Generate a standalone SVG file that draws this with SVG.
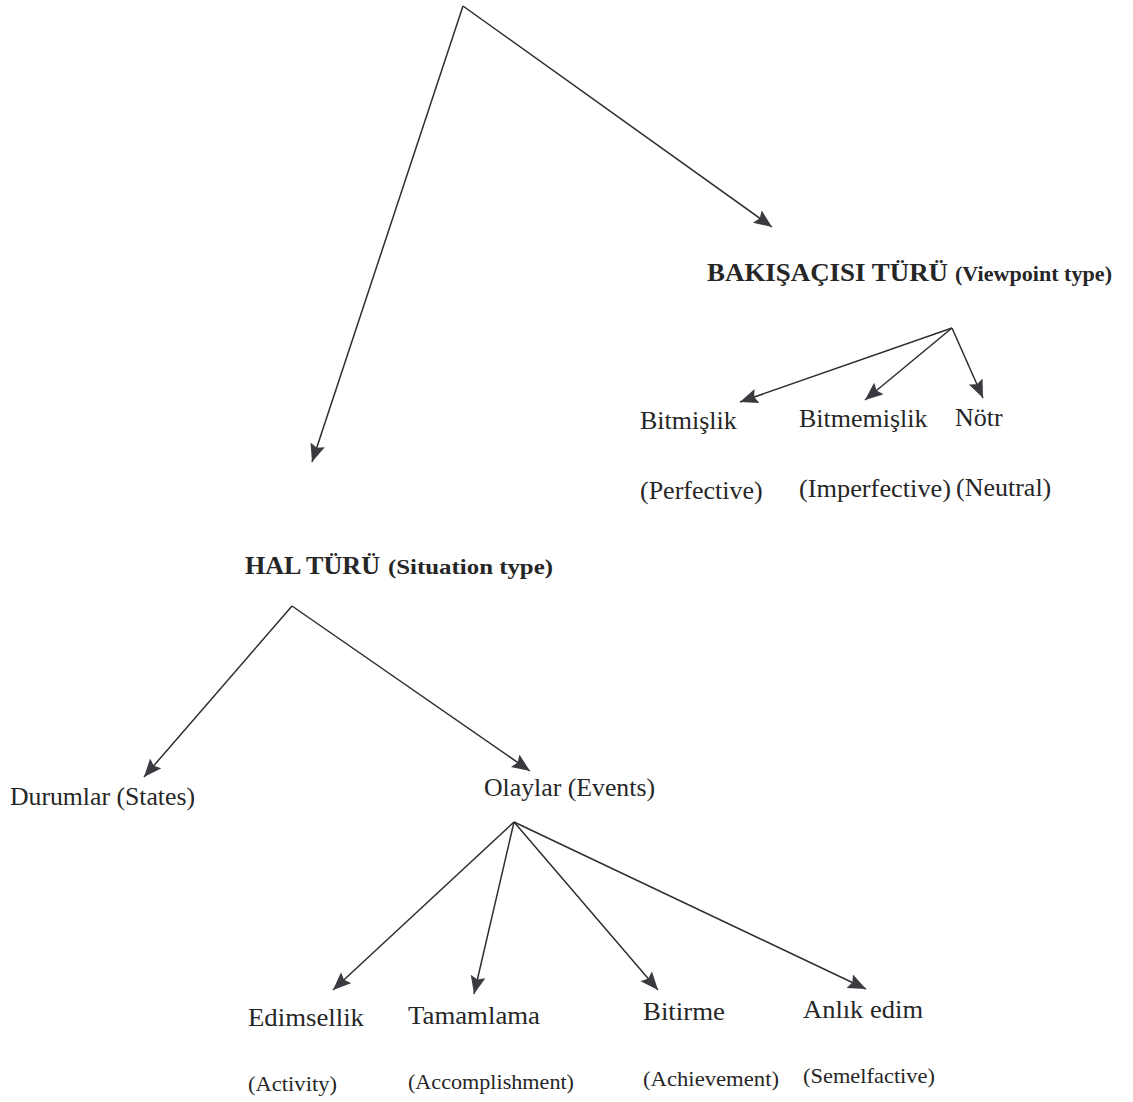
<svg xmlns="http://www.w3.org/2000/svg" width="1133" height="1102" viewBox="0 0 1133 1102">
<style>
.ln{stroke:#2e2e2e;stroke-width:1.5;fill:none;marker-end:url(#ah)}
text{font-family:"Liberation Serif","Times New Roman",serif;fill:#262626}
.t{font-size:26px}
.s{font-size:22px}
.hb{font-size:26px;font-weight:bold}
.hs{font-size:22px;font-weight:bold}
</style>
<defs>
<marker id="ah" markerUnits="userSpaceOnUse" markerWidth="20" markerHeight="16" refX="18" refY="7.5" orient="auto">
<path d="M0,0 L18,7.5 L0,15 L3,7.5 z" fill="#3a3a40"/>
</marker>
</defs>
<rect width="1133" height="1102" fill="#ffffff"/>
<g id="connectors">
<line class="ln" x1="463" y1="6" x2="772" y2="227"/>
<line class="ln" x1="463" y1="6" x2="312" y2="462"/>
<line class="ln" x1="952" y1="328" x2="740" y2="402"/>
<line class="ln" x1="952" y1="328" x2="865" y2="400"/>
<line class="ln" x1="952" y1="328" x2="983" y2="398"/>
<line class="ln" x1="292" y1="606" x2="144" y2="777"/>
<line class="ln" x1="292" y1="606" x2="530" y2="771"/>
<line class="ln" x1="514" y1="822" x2="333" y2="990"/>
<line class="ln" x1="514" y1="822" x2="474" y2="994"/>
<line class="ln" x1="514" y1="822" x2="658" y2="990"/>
<line class="ln" x1="514" y1="822" x2="866" y2="989"/>
</g>
<g id="viewpoint">
<text x="707" y="281" class="hb" textLength="241" lengthAdjust="spacingAndGlyphs">BAKIŞAÇISI TÜRÜ</text>
<text x="955" y="281" class="hs" textLength="157" lengthAdjust="spacingAndGlyphs">(Viewpoint type)</text>
</g>
<g id="perfective">
<text x="640" y="429" class="t">Bitmişlik</text>
<text x="640" y="499" class="t">(Perfective)</text>
</g>
<g id="imperfective">
<text x="799" y="427" class="t">Bitmemişlik</text>
<text x="799" y="497" class="t" textLength="152" lengthAdjust="spacingAndGlyphs">(Imperfective)</text>
</g>
<g id="neutral">
<text x="955" y="426" class="t">Nötr</text>
<text x="956" y="496" class="t">(Neutral)</text>
</g>
<g id="situation">
<text x="245" y="574" class="hb" textLength="135" lengthAdjust="spacingAndGlyphs">HAL TÜRÜ</text>
<text x="388" y="574" class="hs" textLength="165" lengthAdjust="spacingAndGlyphs">(Situation type)</text>
</g>
<g id="states">
<text x="10" y="805" class="t" textLength="185" lengthAdjust="spacingAndGlyphs">Durumlar (States)</text>
</g>
<g id="events">
<text x="484" y="796" class="t" textLength="171" lengthAdjust="spacingAndGlyphs">Olaylar (Events)</text>
</g>
<g id="activity">
<text x="248" y="1026" class="t" textLength="116" lengthAdjust="spacingAndGlyphs">Edimsellik</text>
<text x="248" y="1091" class="s" textLength="89" lengthAdjust="spacingAndGlyphs">(Activity)</text>
</g>
<g id="accomplishment">
<text x="408" y="1024" class="t" textLength="132" lengthAdjust="spacingAndGlyphs">Tamamlama</text>
<text x="408" y="1089" class="s" textLength="166" lengthAdjust="spacingAndGlyphs">(Accomplishment)</text>
</g>
<g id="achievement">
<text x="643" y="1020" class="t" textLength="82" lengthAdjust="spacingAndGlyphs">Bitirme</text>
<text x="643" y="1086" class="s" textLength="136" lengthAdjust="spacingAndGlyphs">(Achievement)</text>
</g>
<g id="semelfactive">
<text x="803" y="1018" class="t" textLength="120" lengthAdjust="spacingAndGlyphs">Anlık edim</text>
<text x="803" y="1083" class="s" textLength="132" lengthAdjust="spacingAndGlyphs">(Semelfactive)</text>
</g>
</svg>
